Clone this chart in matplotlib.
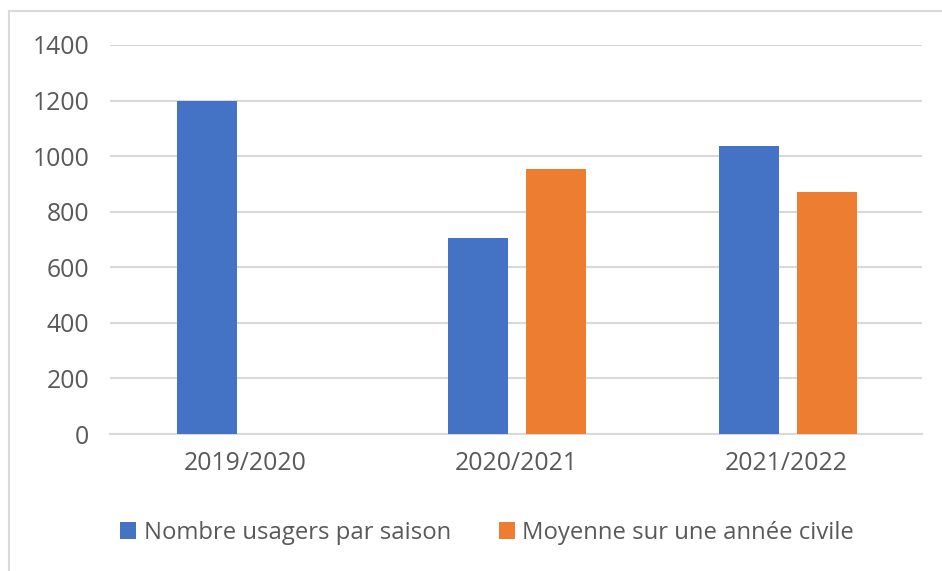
import matplotlib
matplotlib.use("Agg")
import matplotlib.pyplot as plt
import numpy as np
from matplotlib.patches import Rectangle

categories = ["2019/2020", "2020/2021", "2021/2022"]
series_names = ["Nombre usagers par saison", "Moyenne sur une année civile"]
usagers = [1200, 705, 1037]
moyenne = [np.nan, 955, 871]
yticks = [0, 200, 400, 600, 800, 1000, 1200, 1400]

blue = "#4472C4"
orange = "#ED7D31"
txt = "#595959"

plt.rcParams['font.family'] = ['Open Sans', 'DejaVu Sans']

fig = plt.figure(figsize=(9.42, 5.71), dpi=100)
ax = fig.add_axes([110/942, 1-434/571, (922-110)/942, (434-45)/571])

x = np.arange(len(categories))
w = 0.222
off = 0.144
ax.bar(x - off + 0.004, usagers, width=w, color=blue, label=series_names[0], zorder=3)
ax.bar(x + off + 0.004, moyenne, width=w, color=orange, label=series_names[1], zorder=3)

fs = 17.8
ax.set_xlim(-0.5, 2.5)
ax.set_ylim(0, 1400)
ax.set_yticks(yticks)
ax.set_yticklabels([str(v) for v in yticks], fontsize=fs, color=txt)
ax.set_xticks(x)
ax.set_xticklabels(categories, fontsize=fs, color=txt)
ax.tick_params(axis='both', length=0)
ax.tick_params(axis='y', pad=15)
ax.tick_params(axis='x', pad=12)
ax.grid(axis='y', color='#D9D9D9', linewidth=1.5, zorder=0)
for s in ['top', 'right', 'left']:
    ax.spines[s].set_visible(False)
ax.spines['bottom'].set_color('#D9D9D9')
ax.spines['bottom'].set_linewidth(1.5)

lfs = 17.2
leg = fig.legend(loc='center', bbox_to_anchor=(487/942, 1-533/571), ncol=2, frameon=False,
                 fontsize=lfs, handlelength=0.68, handleheight=0.68, handletextpad=0.3,
                 columnspacing=2.0)
for t in leg.get_texts():
    t.set_color(txt)

fig.patches.append(Rectangle((9/942, -0.05), 1.0, 1-11/571 + 0.05, transform=fig.transFigure,
                             fill=False, edgecolor='#D9D9D9', linewidth=1.5))

fig.savefig("out.png", dpi=100)
